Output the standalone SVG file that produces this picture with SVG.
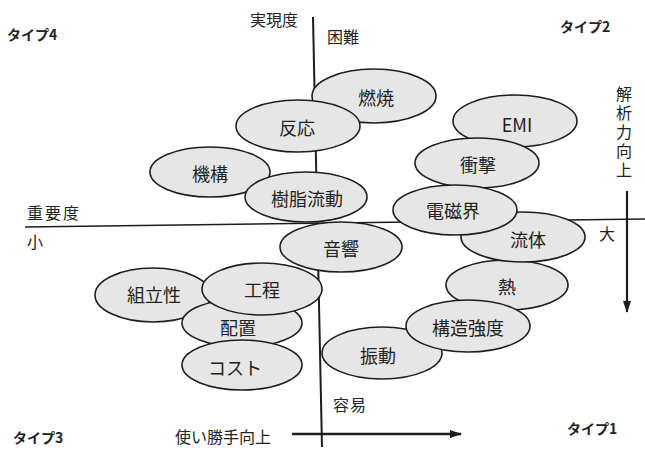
<svg xmlns="http://www.w3.org/2000/svg" width="645" height="453" viewBox="0 0 645 453">
<style>
  .n ellipse { fill: #e6e6e6; stroke: #1e1e1e; stroke-width: 1.6; }
  .n text { font-family: "Noto Sans CJK JP", "Noto Sans", sans-serif; font-size: 18px; fill: #222; text-anchor: middle; dominant-baseline: central; }
  .lbl { font-family: "Noto Sans CJK JP", "Noto Sans", sans-serif; font-size: 16px; fill: #222; }
  .typ { font-family: "Noto Sans CJK JP", "Noto Sans", sans-serif; font-size: 14px; font-weight: bold; fill: #222; }
  .ax { stroke: #1e1e1e; fill: none; }
</style>
<defs>
  <marker id="ah" viewBox="0 0 12 8" refX="11" refY="4" markerWidth="12" markerHeight="8" markerUnits="userSpaceOnUse" orient="auto">
    <path d="M0,0 L12,4 L0,8 z" fill="#1e1e1e"/>
  </marker>
</defs>
<rect width="645" height="453" fill="#ffffff"/>
<g id="connectors">
  <line class="ax" x1="313" y1="17" x2="322" y2="447" stroke-width="2"/>
  <line class="ax" x1="25" y1="227" x2="645" y2="219" stroke-width="1.6"/>
  <line class="ax" x1="627" y1="191" x2="627" y2="312" stroke-width="2.2" marker-end="url(#ah)"/>
  <line class="ax" x1="292" y1="434" x2="461" y2="434" stroke-width="2.6" marker-end="url(#ah)"/>
</g>
<g id="labels">
  <text class="lbl" x="250" y="26" font-size="17">実現度</text>
  <text class="lbl" x="327" y="43" font-size="15">困難</text>
  <text class="lbl" x="27" y="219" font-size="16" letter-spacing="2">重要度</text>
  <text class="lbl" x="27" y="248" font-size="15">小</text>
  <text class="lbl" x="599" y="240" font-size="15">大</text>
  <text class="lbl" x="333" y="411" font-size="15" letter-spacing="1">容易</text>
  <text class="lbl" x="175" y="443" font-size="17">使い勝手向上</text>
  <text class="lbl" x="624" y="86" font-size="15" writing-mode="tb" letter-spacing="3">解析力向上</text>
  <text class="typ" x="7" y="40">タイプ4</text>
  <text class="typ" x="560" y="32">タイプ2</text>
  <text class="typ" x="13" y="443">タイプ3</text>
  <text class="typ" x="567" y="434">タイプ1</text>
</g>
<g id="node-nensho" class="n"><ellipse cx="374" cy="96" rx="62" ry="27"/><text x="376" y="97">燃焼</text></g>
<g id="node-hanno" class="n"><ellipse cx="298" cy="126" rx="62" ry="26"/><text x="297" y="127">反応</text></g>
<g id="node-kiko" class="n"><ellipse cx="210" cy="172" rx="60" ry="25"/><text x="210" y="173">機構</text></g>
<g id="node-jushi" class="n"><ellipse cx="306" cy="197" rx="61" ry="25"/><text x="307" y="198">樹脂流動</text></g>
<g id="node-emi" class="n"><ellipse cx="515" cy="121" rx="62" ry="26"/><text x="517" y="124">EMI</text></g>
<g id="node-shogeki" class="n"><ellipse cx="477" cy="163" rx="62" ry="25"/><text x="478" y="164">衝撃</text></g>
<g id="node-netsu" class="n"><ellipse cx="507" cy="285" rx="61" ry="25"/><text x="507" y="286">熱</text></g>
<g id="node-ryutai" class="n"><ellipse cx="523" cy="237" rx="62" ry="25"/><text x="528" y="239">流体</text></g>
<g id="node-denji" class="n"><ellipse cx="455" cy="210" rx="62" ry="25"/><text x="453" y="210">電磁界</text></g>
<g id="node-shindo" class="n"><ellipse cx="382" cy="353" rx="60" ry="26"/><text x="378" y="355">振動</text></g>
<g id="node-kozo" class="n"><ellipse cx="468" cy="326" rx="62" ry="26"/><text x="468" y="327">構造強度</text></g>
<g id="node-kumitate" class="n"><ellipse cx="153" cy="295" rx="58" ry="27"/><text x="154" y="294">組立性</text></g>
<g id="node-haichi" class="n"><ellipse cx="242" cy="323" rx="60" ry="24"/><text x="238" y="327">配置</text></g>
<g id="node-kotei" class="n"><ellipse cx="262" cy="289" rx="60" ry="26"/><text x="262" y="289">工程</text></g>
<g id="node-cost" class="n"><ellipse cx="242" cy="365" rx="60" ry="25"/><text x="235" y="367">コスト</text></g>
<g id="node-onkyo" class="n"><ellipse cx="341" cy="247" rx="61" ry="25"/><text x="341" y="248">音響</text></g>
</svg>
